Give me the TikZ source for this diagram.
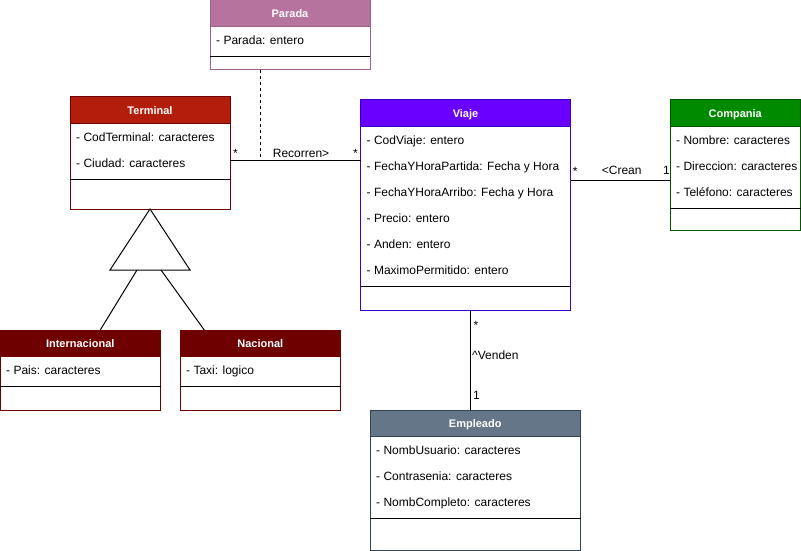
\documentclass[tikz,border=0pt]{standalone}
\usepackage{fontspec}
\setmainfont{Liberation Sans}
\usepackage{xcolor}
\definecolor{paradafill}{HTML}{B5739D}
\definecolor{paradaline}{HTML}{996185}
\definecolor{terminalfill}{HTML}{B21E0B}
\definecolor{terminalline}{HTML}{6F0000}
\definecolor{subfill}{HTML}{6F0000}
\definecolor{viajefill}{HTML}{6A00FF}
\definecolor{viajeline}{HTML}{3700CC}
\definecolor{companiafill}{HTML}{008A00}
\definecolor{companialine}{HTML}{005700}
\definecolor{empleadofill}{HTML}{647687}
\definecolor{empleadoline}{HTML}{314354}
\tikzset{
      classbox/.style  = {draw, fill=white, anchor=north west, inner sep=0, outer sep=0, line width=1pt},
      classhead/.style = {draw, anchor=north west, minimum height=26.7pt, inner sep=0, outer sep=0,
                          line width=1pt, text=white, font=\fontsize{11pt}{13pt}\selectfont\bfseries,
                          text height=7.9pt, text depth=0pt},
      attr/.style      = {anchor=west, inner sep=0, xshift=6pt, font=\fontsize{12pt}{14pt}\selectfont,
                          text height=8.6pt, text depth=0pt},
      sepline/.style   = {black, line width=1pt},
      assoc/.style     = {black, line width=1pt},
      linklabel/.style = {anchor=west, inner sep=0, font=\fontsize{12pt}{14pt}\selectfont,
                          text height=8.6pt, text depth=0pt},
    }

\begin{document}
\begin{tikzpicture}[x=1pt, y=-1pt]
        \useasboundingbox (0,0) rectangle (801,551);

        % Parada
        \node[classbox, draw=paradaline, minimum width=160pt, minimum height=70pt] (parada) at (210,0) {};
        \node[classhead, fill=paradafill, draw=paradaline, minimum width=160pt] (parada head) at (parada.north west) {Parada};
        \node[attr] at ([yshift=-13.3pt]parada head.south west) {- Parada: entero};
        \draw[sepline] ([yshift=-30pt]parada head.south west) -- ([yshift=-30pt]parada head.south east);

        % Terminal
        \node[classbox, draw=terminalline, minimum width=160pt, minimum height=112pt] (terminal) at (70,97) {};
        \node[classhead, fill=terminalfill, draw=terminalline, minimum width=160pt] (terminal head) at (terminal.north west) {Terminal};
        \foreach \t [count=\i, evaluate=\i as \dy using -13.3-26*(\i-1)] in {- CodTerminal: caracteres, - Ciudad: caracteres}
            \node[attr] at ([yshift=\dy pt]terminal head.south west) {\t};
        \draw[sepline] ([yshift=-56pt]terminal head.south west) -- ([yshift=-56pt]terminal head.south east);

        % Internacional
        \node[classbox, draw=subfill, minimum width=160.5pt, minimum height=80pt] (internacional) at (0,330) {};
        \node[classhead, fill=subfill, draw=subfill, minimum width=160.5pt] (internacional head) at (internacional.north west) {Internacional};
        \node[attr] at ([yshift=-13.3pt]internacional head.south west) {- Pais: caracteres};
        \draw[sepline] ([yshift=-30pt]internacional head.south west) -- ([yshift=-30pt]internacional head.south east);

        % Nacional
        \node[classbox, draw=subfill, minimum width=160.5pt, minimum height=80pt] (nacional) at (180,330) {};
        \node[classhead, fill=subfill, draw=subfill, minimum width=160.5pt] (nacional head) at (nacional.north west) {Nacional};
        \node[attr] at ([yshift=-13.3pt]nacional head.south west) {- Taxi: logico};
        \draw[sepline] ([yshift=-30pt]nacional head.south west) -- ([yshift=-30pt]nacional head.south east);

        % Viaje
        \node[classbox, draw=viajeline, minimum width=210pt, minimum height=210pt] (viaje) at (360.5,100) {};
        \node[classhead, fill=viajefill, draw=viajeline, minimum width=210pt] (viaje head) at (viaje.north west) {Viaje};
        \foreach \t [count=\i, evaluate=\i as \dy using -13.3-26*(\i-1)] in {- CodViaje: entero,
                - FechaYHoraPartida: Fecha y Hora, - FechaYHoraArribo: Fecha y Hora,
                - Precio: entero, - Anden: entero, - MaximoPermitido: entero}
            \node[attr] at ([yshift=\dy pt]viaje head.south west) {\t};
        \draw[sepline] ([yshift=-160pt]viaje head.south west) -- ([yshift=-160pt]viaje head.south east);

        % Compania
        \node[classbox, draw=companialine, minimum width=130.5pt, minimum height=130pt] (compania) at (670,100) {};
        \node[classhead, fill=companiafill, draw=companialine, minimum width=130.5pt] (compania head) at (compania.north west) {Compania};
        \foreach \t [count=\i, evaluate=\i as \dy using -13.3-26*(\i-1)] in {- Nombre: caracteres,
                - Direccion: caracteres, - Teléfono: caracteres}
            \node[attr] at ([yshift=\dy pt]compania head.south west) {\t};
        \draw[sepline] ([yshift=-82pt]compania head.south west) -- ([yshift=-82pt]compania head.south east);

        % Empleado
        \node[classbox, draw=empleadoline, minimum width=210.5pt, minimum height=140pt] (empleado) at (370,410) {};
        \node[classhead, fill=empleadofill, draw=empleadoline, minimum width=210.5pt] (empleado head) at (empleado.north west) {Empleado};
        \foreach \t [count=\i, evaluate=\i as \dy using -13.3-26*(\i-1)] in {- NombUsuario: caracteres,
                - Contrasenia: caracteres, - NombCompleto: caracteres}
            \node[attr] at ([yshift=\dy pt]empleado head.south west) {\t};
        \draw[sepline] ([yshift=-82pt]empleado head.south west) -- ([yshift=-82pt]empleado head.south east);

        % herencia
        \coordinate (genleft) at (137,270);
        \coordinate (genright) at (161,270);
        \draw[assoc] (terminal.south) -- (190,270) -- (110,270) -- cycle;
        \draw[assoc] (genleft) -- ([xshift=20pt]internacional.north);
        \draw[assoc] (genright) -- ([xshift=-56pt]nacional.north);

        % Recorren
        \coordinate (stop) at (260.3,160);
        \draw[assoc] (terminal.east |- stop) -- (viaje.west |- stop);
        \draw[assoc, dash pattern=on 3pt off 3pt] (parada.south -| stop) -- (stop);
        \node[linklabel] at (233,153) {*};
        \node[linklabel] at (272.7,153) {Recorren>};
        \node[linklabel] at (353,153) {*};

        % Crean
        \draw[assoc] (viaje.east |- 0,180) -- (compania.west |- 0,180);
        \node[linklabel] at (572.7,171) {*};
        \node[linklabel] at (601.7,170) {<Crean};
        \node[linklabel] at (663,170) {1};

        % Venden
        \draw[assoc] (viaje.south -| 470.7,0) -- (empleado.north -| 470.7,0);
        \node[linklabel] at (473.5,325.6) {*};
        \node[linklabel] at (472,355) {\^{}Venden};
        \node[linklabel] at (473,395) {1};

\end{tikzpicture}
\end{document}
